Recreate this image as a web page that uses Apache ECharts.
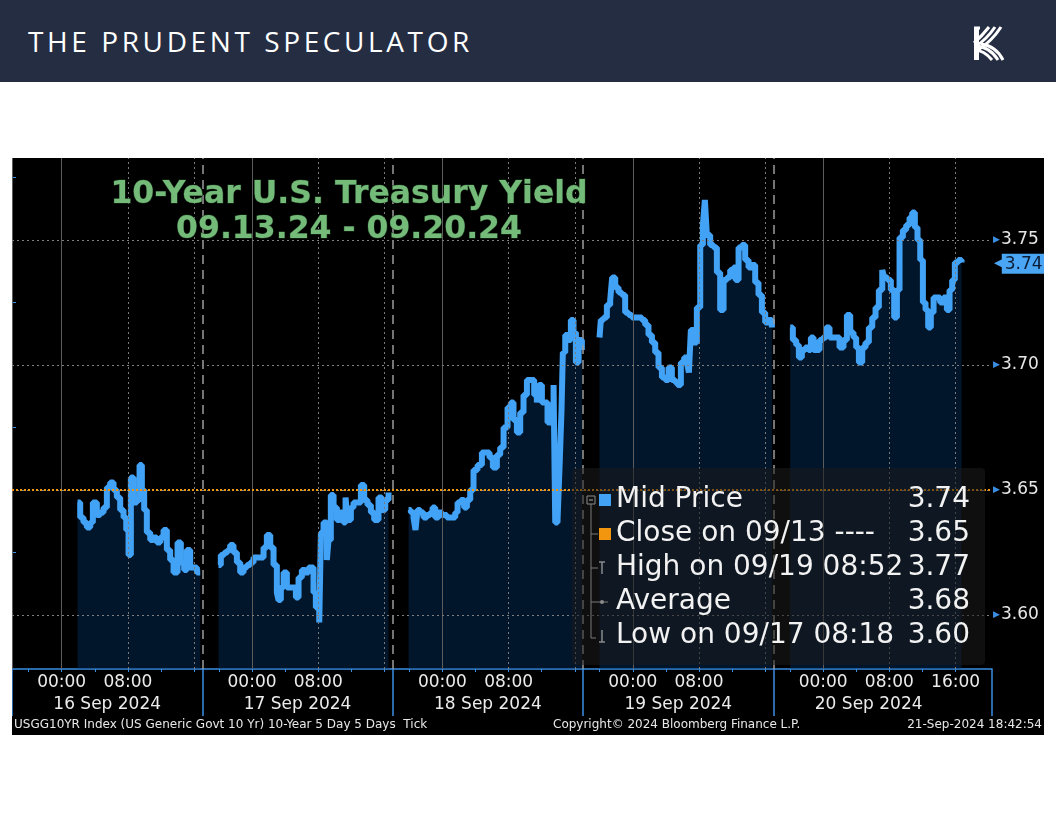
<!DOCTYPE html>
<html>
<head>
<meta charset="utf-8">
<script src="https://cdn.jsdelivr.net/npm/echarts@6/dist/echarts.min.js"></script>
<style>
  html, body { margin: 0; padding: 0; background: #fff; }
  #page { position: relative; width: 1056px; height: 816px; background: #fff; overflow: hidden; }
  #header { position: absolute; left: 0; top: 0; width: 1056px; height: 82px; background: #252d42; }
  #brand { position: absolute; left: 28px; top: 22px; color: #fff; font-family: 'Open Sans', sans-serif;
           font-size: 28px; font-weight: 400; letter-spacing: 3.6px; line-height: 38px; white-space: nowrap; }
  #logo { position: absolute; left: 970px; top: 24px; }
  #chart { position: absolute; left: 12px; top: 158px; width: 1032px; height: 577px; background: #000; }
</style>
</head>
<body>
<div id="page">
  <div id="header">
    <div id="brand">THE PRUDENT SPECULATOR</div>
    <svg id="logo" width="36" height="40" viewBox="0 0 36 40">
      <g fill="none" stroke="#fff" stroke-width="3">
        <path d="M4 4 L10 4"/>
        <path d="M4 19 Q12 12 19 3"/>
        <path d="M5 23 Q17 15 25 3"/>
        <path d="M8 26 Q22 17 31 3"/>
        <path d="M4 26 Q14 26 22 36"/>
        <path d="M6 22 Q20 23 28 36"/>
        <path d="M11 20 Q26 22 33 36"/>
      </g>
      <rect x="4" y="3" width="5" height="33" fill="#fff"/>
    </svg>
  </div>
  <div id="chart"></div>
</div>
<script>
// 10-year yield, Mid Price ticks. Hours are relative to local midnight of each day
// (negative = previous evening, session runs 18:00 prev day -> 17:00)
const dayNames = ['16 Sep 2024', '17 Sep 2024', '18 Sep 2024', '19 Sep 2024', '20 Sep 2024'];

const sep16Hours = [1.92, 2.24, 2.64, 3.05, 3.45, 3.77, 4.25, 4.66, 5.06, 5.46, 5.86, 6.27, 6.67, 7.07, 7.48, 7.80, 8.08, 8.36, 8.68, 9.09, 9.41, 9.69, 9.97, 10.29, 10.70, 11.10, 11.50, 11.91, 12.31, 12.71, 13.11, 13.52, 14.00, 14.40, 14.80, 15.13, 15.53, 15.93, 16.34, 16.74];
const sep16Yield = [3.645, 3.639, 3.637, 3.635, 3.637, 3.645, 3.640, 3.641, 3.643, 3.651, 3.653, 3.650, 3.647, 3.642, 3.639, 3.634, 3.624, 3.655, 3.645, 3.646, 3.660, 3.650, 3.642, 3.633, 3.630, 3.631, 3.629, 3.631, 3.634, 3.626, 3.622, 3.617, 3.629, 3.621, 3.618, 3.626, 3.619, 3.619, 3.617, 3.617];

const sep17Hours = [-4.05, -3.77, -3.36, -2.96, -2.64, -2.24, -1.83, -1.43, -1.03, -0.62, -0.22, 0.18, 0.58, 0.99, 1.39, 1.79, 2.20, 2.60, 3.00, 3.20, 3.48, 3.81, 4.21, 4.61, 5.01, 5.30, 5.62, 6.02, 6.42, 6.83, 7.11, 7.43, 7.71, 8.12, 8.32, 8.64, 9.04, 9.24, 9.52, 9.85, 10.25, 10.65, 11.05, 11.30, 11.54, 11.94, 12.26, 12.67, 13.15, 13.55, 13.95, 14.36, 14.76, 15.28, 15.69, 16.09, 16.49];
const sep17Yield = [3.620, 3.624, 3.625, 3.626, 3.628, 3.625, 3.621, 3.617, 3.619, 3.620, 3.621, 3.623, 3.623, 3.623, 3.627, 3.632, 3.627, 3.620, 3.609, 3.606, 3.611, 3.617, 3.611, 3.611, 3.611, 3.607, 3.615, 3.618, 3.617, 3.619, 3.619, 3.609, 3.603, 3.597, 3.633, 3.637, 3.622, 3.630, 3.648, 3.643, 3.638, 3.641, 3.637, 3.647, 3.638, 3.643, 3.645, 3.645, 3.652, 3.646, 3.644, 3.641, 3.638, 3.647, 3.642, 3.646, 3.649];

const sep18Hours = [-4.09, -3.81, -3.49, -3.25, -3.01, -2.68, -2.28, -1.88, -1.47, -1.19, -0.87, -0.47, -0.07, 0.54, 1.14, 1.55, 1.83, 2.23, 2.63, 2.96, 3.36, 3.76, 4.24, 4.77, 5.29, 5.69, 6.10, 6.58, 6.98, 7.39, 7.87, 8.27, 8.59, 9.00, 9.40, 9.80, 10.21, 10.69, 11.09, 11.41, 11.65, 12.02, 12.42, 12.70, 13.10, 13.43, 13.63, 13.91, 14.15, 14.39, 14.55, 14.84, 15.24, 15.52, 15.84, 16.13, 16.45, 16.85];
const sep18Yield = [3.642, 3.641, 3.639, 3.634, 3.642, 3.641, 3.639, 3.640, 3.641, 3.643, 3.639, 3.641, 3.640, 3.639, 3.639, 3.641, 3.645, 3.646, 3.643, 3.646, 3.650, 3.658, 3.660, 3.665, 3.665, 3.663, 3.659, 3.664, 3.667, 3.675, 3.683, 3.685, 3.678, 3.673, 3.681, 3.688, 3.694, 3.694, 3.688, 3.685, 3.692, 3.685, 3.685, 3.677, 3.682, 3.692, 3.637, 3.638, 3.659, 3.682, 3.705, 3.712, 3.710, 3.718, 3.713, 3.701, 3.710, 3.706];

const sep19Hours = [-4.02, -3.86, -3.53, -3.13, -2.73, -2.49, -2.12, -1.72, -1.32, -0.92, -0.51, -0.11, 0.29, 0.70, 1.10, 1.50, 1.90, 2.31, 2.71, 3.11, 3.52, 3.92, 4.32, 4.72, 5.13, 5.41, 5.81, 6.21, 6.54, 6.78, 7.02, 7.34, 7.74, 8.15, 8.47, 8.71, 8.95, 9.35, 9.76, 10.16, 10.56, 10.97, 11.37, 11.77, 12.17, 12.42, 12.78, 13.18, 13.58, 13.99, 14.39, 14.79, 15.19, 15.60, 16.00, 16.40, 16.81];
const sep19Yield = [3.711, 3.718, 3.719, 3.724, 3.726, 3.735, 3.731, 3.729, 3.728, 3.721, 3.720, 3.719, 3.719, 3.719, 3.718, 3.716, 3.712, 3.709, 3.705, 3.699, 3.695, 3.694, 3.699, 3.694, 3.693, 3.692, 3.701, 3.703, 3.701, 3.697, 3.714, 3.709, 3.723, 3.748, 3.756, 3.766, 3.752, 3.748, 3.747, 3.737, 3.722, 3.734, 3.735, 3.738, 3.739, 3.734, 3.747, 3.748, 3.742, 3.739, 3.740, 3.733, 3.728, 3.721, 3.717, 3.718, 3.715];

const sep20Hours = [-3.98, -3.66, -3.26, -2.93, -2.57, -2.17, -1.77, -1.48, -1.16, -0.76, -0.44, -0.03, 0.37, 0.77, 1.17, 1.58, 1.98, 2.46, 2.87, 3.27, 3.67, 3.99, 4.32, 4.72, 5.12, 5.52, 5.93, 6.33, 6.73, 7.14, 7.38, 7.78, 8.18, 8.58, 8.91, 9.23, 9.63, 10.03, 10.44, 10.76, 11.08, 11.40, 11.73, 12.05, 12.37, 12.69, 13.01, 13.34, 13.74, 14.14, 14.54, 14.95, 15.27, 15.59, 15.91, 16.32, 16.72];
const sep20Yield = [3.715, 3.710, 3.708, 3.703, 3.706, 3.707, 3.706, 3.711, 3.706, 3.706, 3.710, 3.711, 3.715, 3.711, 3.711, 3.711, 3.707, 3.710, 3.720, 3.713, 3.711, 3.707, 3.701, 3.707, 3.709, 3.715, 3.719, 3.723, 3.730, 3.738, 3.735, 3.734, 3.730, 3.719, 3.730, 3.751, 3.754, 3.756, 3.759, 3.761, 3.755, 3.750, 3.742, 3.725, 3.722, 3.715, 3.721, 3.727, 3.727, 3.725, 3.727, 3.722, 3.730, 3.734, 3.741, 3.742, 3.741];

const closeSep13 = 3.6517;
const lastYield = 3.7405;
const yTickLabels = [3.60, 3.65, 3.70, 3.75];
const yMinorTicks = [3.625, 3.675, 3.725, 3.775];

const legendLabels = ['Mid Price', 'Close on 09/13 ----', 'High on 09/19 08:52', 'Average', 'Low on 09/17 08:18'];
const legendValues = ['3.74', '3.65', '3.77', '3.68', '3.60'];

// axis geometry (session hours, each session is 23h wide)
const SESSION = 23;
const xMax = 118.4;
const yMin = 3.5784;
const yMax = 3.7828;

function sessionHour(day, t) {
  return day * SESSION + 6 + t;
}

const dayHours = [sep16Hours, sep17Hours, sep18Hours, sep19Hours, sep20Hours];
const dayYields = [sep16Yield, sep17Yield, sep18Yield, sep19Yield, sep20Yield];

const lineBlue = '#42a3f6';
const axisBlue = '#3b8fe3';

const timeLabelHours = [];
const fourHourTicks = [];
const dayCenters = [];
const midnightLines = [];
const dottedLines = [];
for (let d = 0; d < 5; d++) {
  timeLabelHours.push(sessionHour(d, 0), sessionHour(d, 8));
  [-4, 0, 4, 8, 12, 16].forEach(t => fourHourTicks.push(sessionHour(d, t)));
  dayCenters.push(d * SESSION + 11.5);
  midnightLines.push(sessionHour(d, 0));
  dottedLines.push(sessionHour(d, 8), sessionHour(d, 16));
}
timeLabelHours.push(sessionHour(4, 16));
const sessionBreaks = [23, 46, 69, 92];

function clockLabel(h) {
  const d = Math.min(4, Math.floor(h / SESSION));
  const t = Math.round(h - d * SESSION - 6);
  const hh = ((t % 24) + 24) % 24;
  return (hh < 10 ? '0' : '') + hh + ':00';
}

const chart = echarts.init(document.getElementById('chart'), null, { renderer: 'canvas' });

const gridMarks = [];
midnightLines.forEach(v => gridMarks.push({ xAxis: v, lineStyle: { color: '#5c5c5c', type: 'solid', width: 1 } }));
dottedLines.forEach(v => gridMarks.push({ xAxis: v, lineStyle: { color: '#7a7a7a', type: [2, 3], width: 1 } }));
sessionBreaks.forEach(v => gridMarks.push({ xAxis: v, lineStyle: { color: '#9c9c9c', type: [9, 6], width: 1.5 } }));
gridMarks.push({ xAxis: 0, lineStyle: { color: '#5c5c5c', type: 'solid', width: 1 } });
yTickLabels.forEach(v => gridMarks.push({ yAxis: v, lineStyle: { color: '#808080', type: [2, 3], width: 1 } }));

const series = [{
  type: 'line',
  data: [],
  z: 1,
  silent: true,
  markLine: { silent: true, symbol: ['none', 'none'], label: { show: false }, animation: false, data: gridMarks }
}];

dayHours.forEach((hours, d) => {
  series.push({
    type: 'line',
    name: dayNames[d],
    z: 2,
    step: 'end',
    showSymbol: false,
    symbol: 'none',
    data: hours.map((t, i) => [sessionHour(d, t), dayYields[d][i]]),
    lineStyle: { color: lineBlue, width: 6 },
    areaStyle: { color: 'rgba(6,60,118,0.52)' }
  });
});

series.push({
  type: 'line',
  data: [],
  z: 3,
  silent: true,
  markLine: {
    silent: true, symbol: ['none', 'none'], label: { show: false }, animation: false,
    data: [{ yAxis: closeSep13, lineStyle: { color: '#f2960f', type: [2, 2], width: 2 } }]
  }
});

// legend panel graphics (chart-local coordinates)
const legendRowY = [342, 376, 410, 444, 478];
const legendGraphics = [
  { type: 'rect', shape: { x: 560, y: 310, width: 413, height: 197, r: 4 }, style: { fill: 'rgba(28,28,28,0.55)' }, z: 50 },
  { type: 'line', shape: { x1: 579, y1: 346, x2: 579, y2: 480 }, style: { stroke: '#7a7a7a', lineWidth: 1 }, z: 51 },
  { type: 'rect', shape: { x: 575, y: 338, width: 8, height: 8 }, style: { fill: '#111', stroke: '#8a8a8a', lineWidth: 1 }, z: 52 },
  { type: 'line', shape: { x1: 577, y1: 342, x2: 581, y2: 342 }, style: { stroke: '#aaa', lineWidth: 1 }, z: 53 },
  { type: 'rect', shape: { x: 587, y: 336, width: 12, height: 12 }, style: { fill: '#42a3f6' }, z: 52 },
  { type: 'line', shape: { x1: 579, y1: 376, x2: 586, y2: 376 }, style: { stroke: '#7a7a7a', lineWidth: 1 }, z: 51 },
  { type: 'rect', shape: { x: 587, y: 370, width: 12, height: 12 }, style: { fill: '#f2960f' }, z: 52 },
  { type: 'line', shape: { x1: 579, y1: 410, x2: 586, y2: 410 }, style: { stroke: '#7a7a7a', lineWidth: 1 }, z: 51 },
  { type: 'polyline', shape: { points: [[587, 404], [593, 404]] }, style: { stroke: '#8a8a8a', lineWidth: 1.5 }, z: 52 },
  { type: 'line', shape: { x1: 590, y1: 404, x2: 590, y2: 416 }, style: { stroke: '#8a8a8a', lineWidth: 1.5 }, z: 52 },
  { type: 'line', shape: { x1: 579, y1: 444, x2: 596, y2: 444 }, style: { stroke: '#7a7a7a', lineWidth: 1 }, z: 51 },
  { type: 'circle', shape: { cx: 590, cy: 444, r: 2 }, style: { fill: '#8a8a8a' }, z: 52 },
  { type: 'line', shape: { x1: 579, y1: 480, x2: 584, y2: 480 }, style: { stroke: '#7a7a7a', lineWidth: 1 }, z: 51 },
  { type: 'line', shape: { x1: 590, y1: 472, x2: 590, y2: 484 }, style: { stroke: '#8a8a8a', lineWidth: 1.5 }, z: 52 },
  { type: 'line', shape: { x1: 587, y1: 484, x2: 593, y2: 484 }, style: { stroke: '#8a8a8a', lineWidth: 1.5 }, z: 52 }
];
legendLabels.forEach((txt, i) => {
  legendGraphics.push({
    type: 'text', x: 604, y: legendRowY[i], z: 55,
    style: { text: txt, fill: '#f2f2f2', font: '28px "DejaVu Sans"', textVerticalAlign: 'middle' }
  });
  legendGraphics.push({
    type: 'text', x: 958, y: legendRowY[i], z: 55,
    style: { text: legendValues[i], fill: '#f2f2f2', font: '28px "DejaVu Sans"', textAlign: 'right', textVerticalAlign: 'middle' }
  });
});

const option = {
  backgroundColor: '#000',
  animation: false,
  grid: { left: 0, right: 52, top: 0, height: 511, containLabel: false, outerBoundsMode: 'none' },
  xAxis: [
    {
      type: 'value', min: 0, max: xMax, position: 'bottom',
      axisLine: { show: true, onZero: false, lineStyle: { color: axisBlue, width: 1.5 } },
      axisTick: { show: true, customValues: fourHourTicks, length: 3, lineStyle: { color: axisBlue } },
      axisLabel: {
        customValues: timeLabelHours, formatter: v => clockLabel(v),
        color: '#ececec', fontSize: 17, fontFamily: 'DejaVu Sans', margin: 5
      },
      splitLine: { show: false }
    },
    {
      type: 'value', min: 0, max: xMax, position: 'bottom',
      axisLine: { show: false },
      axisTick: { show: true, customValues: [0, ...sessionBreaks, xMax], length: 47, lineStyle: { color: axisBlue, width: 1.5 } },
      axisLabel: {
        customValues: dayCenters, formatter: v => dayNames[Math.floor(v / SESSION)],
        color: '#ececec', fontSize: 17, fontFamily: 'DejaVu Sans', margin: 27
      },
      splitLine: { show: false }
    }
  ],
  yAxis: [
    {
      type: 'value', min: yMin, max: yMax, position: 'right',
      axisLine: { show: true, lineStyle: { color: axisBlue, width: 1.5 } },
      axisTick: { show: true, customValues: yMinorTicks, length: 4, lineStyle: { color: axisBlue } },
      axisLabel: {
        customValues: yTickLabels, margin: 1,
        formatter: v => '{t|▶}{v|' + v.toFixed(2) + '}',
        rich: {
          t: { color: axisBlue, fontSize: 9, fontFamily: 'DejaVu Sans' },
          v: { color: '#e6e6e6', fontSize: 17, fontFamily: 'DejaVu Sans', padding: [0, 0, 0, 1] }
        }
      },
      splitLine: { show: false }
    },
    {
      type: 'value', min: yMin, max: yMax, position: 'right',
      axisLine: { show: false }, axisTick: { show: false },
      axisLabel: {
        customValues: [lastYield], margin: 2,
        formatter: v => '{a|◀}{b|' + v.toFixed(2) + '}',
        rich: {
          a: { color: '#4aa6f5', fontSize: 14, fontFamily: 'DejaVu Sans', padding: [0, -3, 0, 0] },
          b: { color: '#0b1c34', backgroundColor: '#4aa6f5', fontSize: 17, fontFamily: 'DejaVu Sans', padding: [2, 6, 1, 3] }
        }
      },
      splitLine: { show: false }
    }
  ],
  graphic: [
    {
      type: 'text', x: 337, y: 19, z: 40,
      style: {
        text: '10-Year U.S. Treasury Yield\n09.13.24 - 09.20.24',
        fill: '#74ba78', stroke: '#1c3a20', lineWidth: 1,
        font: 'bold 31.5px "DejaVu Sans"', textAlign: 'center', lineHeight: 35
      }
    },
    { type: 'text', x: 2, y: 567, style: { text: 'USGG10YR Index (US Generic Govt 10 Yr) 10-Year 5 Day 5 Days  Tick', fill: '#e8e8e8', font: '12px "DejaVu Sans"', textVerticalAlign: 'middle' } },
    { type: 'text', x: 541, y: 567, style: { text: 'Copyright© 2024 Bloomberg Finance L.P.', fill: '#e8e8e8', font: '12px "DejaVu Sans"', textVerticalAlign: 'middle' } },
    { type: 'text', x: 1030, y: 567, style: { text: '21-Sep-2024 18:42:54', fill: '#e8e8e8', font: '12px "DejaVu Sans"', textAlign: 'right', textVerticalAlign: 'middle' } },
    ...legendGraphics
  ],
  series
};

chart.setOption(option);
</script>
</body>
</html>
